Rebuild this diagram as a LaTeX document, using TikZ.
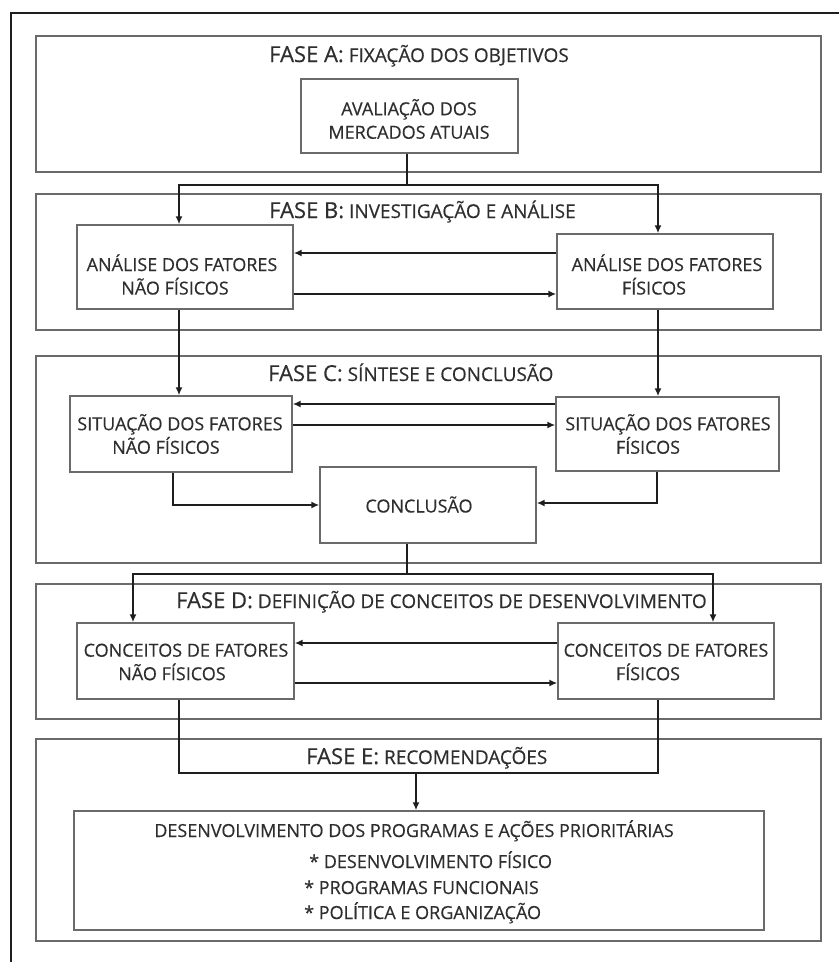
\documentclass[tikz,border=0pt]{standalone}
\usepackage{fontspec}
\setmainfont{Open Sans}[UprightFeatures={FakeBold=0.4}]
\usetikzlibrary{arrows.meta}
\definecolor{ink}{HTML}{2E2E2E}
\definecolor{edge}{HTML}{6A6A6A}
\definecolor{wire}{HTML}{1E1E1E}
\begin{document}
\begin{tikzpicture}[x=1pt,y=-1pt,
  phase/.style={draw=edge, line width=1.4pt},
  box/.style={draw=edge, line width=1.4pt, inner sep=0pt},
  boxtext/.style={inner sep=0pt, align=center, text=ink, font=\fontsize{18}{23.5}\selectfont},
  title/.style={anchor=base west, inner sep=0pt, text=ink, font=\fontsize{19}{23}\selectfont},
  item/.style={anchor=base west, inner sep=0pt, text=ink, font=\fontsize{18}{23}\selectfont},
  flow/.style={draw=wire, line width=2.3pt, line join=miter},
  arr/.style={flow, -{Latex[length=8pt,width=7pt]}},
]
\useasboundingbox (0,0) rectangle (839,962);
\fill[white] (0,0) rectangle (839,962);

% outer frame, left and top edges
\draw[line width=2.5pt, draw=wire, line join=miter] (11,962) -- (11,13) -- (839,13);

% phase panels
\draw[phase] (36,36) rectangle (821,172);
\draw[phase] (36,194) rectangle (821,330);
\draw[phase] (36,356) rectangle (821,563);
\draw[phase] (36,584) rectangle (821,719);
\draw[phase] (36,739) rectangle (821,941);

% phase titles
\newcommand{\phasehead}[1]{{\fontsize{22}{24}\selectfont #1}}
\node[title] (ta) at (269,62) {\phasehead{FASE A:} FIXAÇÃO DOS OBJETIVOS};
\node[title] (tb) at (269,218) {\phasehead{FASE B:} INVESTIGAÇÃO E ANÁLISE};
\node[title] (tc) at (268,381) {\phasehead{FASE C:} SÍNTESE E CONCLUSÃO};
\node[title] (td) at (176,608) {\phasehead{FASE D:} DEFINIÇÃO DE CONCEITOS DE DESENVOLVIMENTO};
\node[title] (te) at (306,764) {\phasehead{FASE E:} RECOMENDAÇÕES};

% boxes
\node[box, minimum width=217, minimum height=74] (aval) at (409.5,116) {};
\node[box, minimum width=216, minimum height=84] (anf) at (185,267) {};
\node[box, minimum width=216, minimum height=75] (af) at (665,271.5) {};
\node[box, minimum width=222, minimum height=76] (snf) at (181,434) {};
\node[box, minimum width=223, minimum height=74] (sf) at (667.5,434) {};
\node[box, minimum width=216, minimum height=76] (concl) at (428,505) {};
\node[box, minimum width=217, minimum height=76] (cnf) at (185.5,661) {};
\node[box, minimum width=216, minimum height=76] (cf) at (666,661) {};
\node[box, minimum width=690, minimum height=119] (prog) at (419,870.5) {};

% box texts
\node[boxtext] (avaltx) at (409,119) {AVALIAÇÃO DOS\\MERCADOS ATUAIS};
\node[boxtext] (anftx) at (182,274.5) {ANÁLISE DOS FATORES\\NÃO FÍSICOS\hspace*{14pt}};
\node[boxtext] (aftx) at (667,274.5) {ANÁLISE DOS FATORES\\FÍSICOS\hspace*{26pt}};
\node[boxtext] (snftx) at (180,434) {SITUAÇÃO DOS FATORES\\NÃO FÍSICOS\hspace*{28pt}};
\node[boxtext] (sftx) at (668,434) {SITUAÇÃO DOS FATORES\\FÍSICOS\hspace*{40pt}};
\node[boxtext] (concltx) at (419,504.5) {CONCLUSÃO};
\node[boxtext] (cnftx) at (186,662) {CONCEITOS DE FATORES\\NÃO FÍSICOS\hspace*{28pt}};
\node[boxtext] (cftx) at (666,662) {CONCEITOS DE FATORES\\FÍSICOS\hspace*{36pt}};
\node[boxtext, anchor=base] (progtx) at (414,837) {DESENVOLVIMENTO DOS PROGRAMAS E AÇÕES PRIORITÁRIAS};
\node[item] (p1) at (309,868) {* DESENVOLVIMENTO FÍSICO};
\node[item] (p2) at (304,894) {* PROGRAMAS FUNCIONAIS};
\node[item] (p3) at (304,919) {* POLÍTICA E ORGANIZAÇÃO};

% junctions
\coordinate (j1) at (407,185);
\coordinate (j2) at (407,574);
\coordinate (j3) at (416,773);
\coordinate (cl) at (179,773);
\coordinate (cr) at (658,773);

% phase A to B
\draw[flow] (j1 |- aval.south) -- (j1);
\draw[arr] (j1) -| (anf.north -| 179,0);
\draw[arr] (j1) -| (af.north -| 658,0);

% phase B
\draw[arr] (af.west |- 0,253) -- (anf.east |- 0,253);
\draw[arr] (anf.east |- 0,294) -- (af.west |- 0,294);
\draw[arr] (anf.south -| 179,0) -- (snf.north -| 179,0);
\draw[arr] (af.south -| 658,0) -- (sf.north -| 658,0);

% phase C
\draw[arr] (sf.west |- 0,404) -- (snf.east |- 0,404);
\draw[arr] (snf.east |- 0,425) -- (sf.west |- 0,425);
\draw[arr] (snf.south -| 173,0) |- (concl.west |- 0,505);
\draw[arr] (sf.south -| 657,0) |- (concl.east |- 0,503);
\draw[flow] (j2 |- concl.south) -- (j2);
\draw[arr] (j2) -| (cnf.north -| 133,0);
\draw[arr] (j2) -| (cf.north -| 713,0);

% phase D
\draw[arr] (cf.west |- 0,643) -- (cnf.east |- 0,643);
\draw[arr] (cnf.east |- 0,683) -- (cf.west |- 0,683);

% phase D to E
\draw[flow] (cl |- cnf.south) -- (cl) -- (cr) -- (cr |- cf.south);
\draw[arr] (j3) -- (j3 |- prog.north);
\end{tikzpicture}
\end{document}
